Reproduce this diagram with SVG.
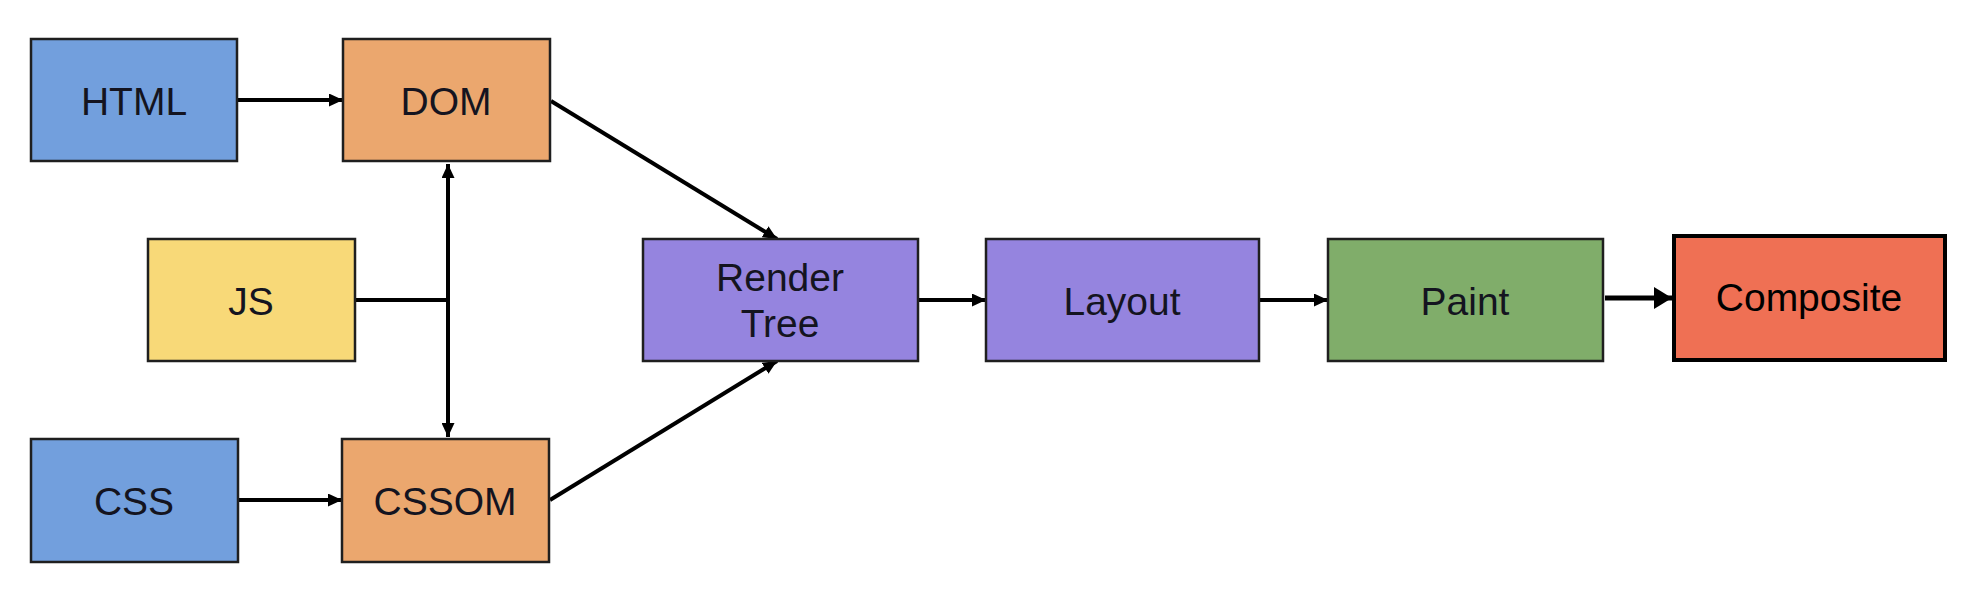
<svg xmlns="http://www.w3.org/2000/svg" width="1986" height="604" viewBox="0 0 1986 604">
  <style>
    .box { stroke: #1f1f1f; stroke-width: 2.5; }
    .lbl { font-family: "Liberation Sans", Arial, Helvetica, sans-serif; font-size: 39px; fill: #141420; text-anchor: middle; }
    .blue { fill: #729fdd; }
    .orange { fill: #eba76e; }
    .yellow { fill: #f8d978; }
    .purple { fill: #9584df; }
    .green { fill: #80ad6a; }
    .red { fill: #ef7054; stroke: #000; stroke-width: 4; }
    .conn { stroke: #000; stroke-width: 4; fill: none; }
    .thick { stroke: #000; stroke-width: 5; fill: none; }
  </style>
  <defs>
    <marker id="ah" markerUnits="userSpaceOnUse" markerWidth="14" markerHeight="13" refX="14" refY="6.5" orient="auto-start-reverse">
      <path d="M0,0 L14,6.5 L0,13 z" fill="#000"/>
    </marker>
    <marker id="ahBig" markerUnits="userSpaceOnUse" markerWidth="18" markerHeight="22" refX="18" refY="11" orient="auto">
      <path d="M0,0 L18,11 L0,22 z" fill="#000"/>
    </marker>
  </defs>
  <rect width="1986" height="604" fill="#fff"/>

  <g id="connectors">
    <line class="conn" x1="237" y1="100" x2="343" y2="100" marker-end="url(#ah)"/>
    <line class="conn" x1="238" y1="500" x2="342" y2="500" marker-end="url(#ah)"/>
    <line class="conn" x1="448" y1="164" x2="448" y2="437" marker-start="url(#ah)" marker-end="url(#ah)"/>
    <line class="conn" x1="355" y1="300" x2="446" y2="300"/>
    <line class="conn" x1="551" y1="101" x2="777" y2="239" marker-end="url(#ah)"/>
    <line class="conn" x1="550" y1="500" x2="777" y2="361" marker-end="url(#ah)"/>
    <line class="conn" x1="918" y1="300" x2="986" y2="300" marker-end="url(#ah)"/>
    <line class="conn" x1="1259" y1="300" x2="1328" y2="300" marker-end="url(#ah)"/>
    <line class="thick" x1="1605" y1="298" x2="1672" y2="298" marker-end="url(#ahBig)"/>
  </g>

  <g id="node-html">
    <rect class="box blue" x="31" y="39" width="206" height="122"/>
    <text class="lbl" x="134" y="115">HTML</text>
  </g>
  <g id="node-dom">
    <rect class="box orange" x="343" y="39" width="207" height="122"/>
    <text class="lbl" x="446" y="115">DOM</text>
  </g>
  <g id="node-js">
    <rect class="box yellow" x="148" y="239" width="207" height="122"/>
    <text class="lbl" x="251" y="315">JS</text>
  </g>
  <g id="node-css">
    <rect class="box blue" x="31" y="439" width="207" height="123"/>
    <text class="lbl" x="134" y="515">CSS</text>
  </g>
  <g id="node-cssom">
    <rect class="box orange" x="342" y="439" width="207" height="123"/>
    <text class="lbl" x="445" y="515">CSSOM</text>
  </g>
  <g id="node-render-tree">
    <rect class="box purple" x="643" y="239" width="275" height="122"/>
    <text class="lbl" x="780" y="291">Render</text>
    <text class="lbl" x="780" y="337">Tree</text>
  </g>
  <g id="node-layout">
    <rect class="box purple" x="986" y="239" width="273" height="122"/>
    <text class="lbl" x="1122" y="315">Layout</text>
  </g>
  <g id="node-paint">
    <rect class="box green" x="1328" y="239" width="275" height="122"/>
    <text class="lbl" x="1465" y="315">Paint</text>
  </g>
  <g id="node-composite">
    <rect class="red" x="1674" y="236" width="271" height="124"/>
    <text class="lbl" x="1809" y="311" style="fill:#000">Composite</text>
  </g>
</svg>
